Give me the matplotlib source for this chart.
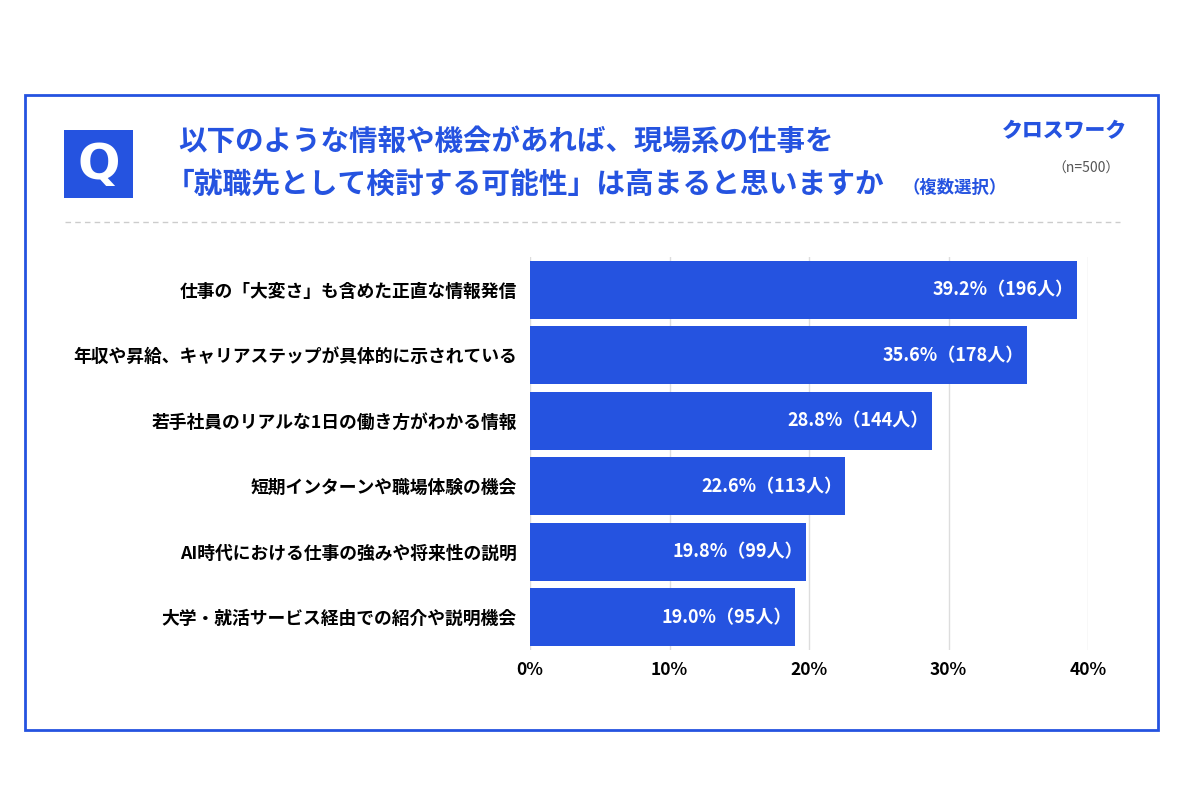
import matplotlib.pyplot as plt
from matplotlib.patches import Rectangle
from matplotlib.lines import Line2D

plt.rcParams['font.family'] = ['Noto Sans CJK JP', 'DejaVu Sans']

categories = [
    "仕事の「大変さ」も含めた正直な情報発信",
    "年収や昇給、キャリアステップが具体的に示されている",
    "若手社員のリアルな1日の働き方がわかる情報",
    "短期インターンや職場体験の機会",
    "AI時代における仕事の強みや将来性の説明",
    "大学・就活サービス経由での紹介や説明機会",
]
percents = [39.2, 35.6, 28.8, 22.6, 19.8, 19.0]
counts = [196, 178, 144, 113, 99, 95]
xticks = [0, 10, 20, 30, 40]

blue = '#2553e0'

fig = plt.figure(figsize=(12, 8), dpi=100)

# outer frame
fig.patches.append(Rectangle((25 / 1200, 1 - 730 / 800), 1133 / 1200, 635 / 800,
                             transform=fig.transFigure, fill=False,
                             edgecolor=blue, linewidth=2))
# Q box
fig.patches.append(Rectangle((64 / 1200, 1 - 198 / 800), 69 / 1200, 68 / 800,
                             transform=fig.transFigure, facecolor=blue,
                             edgecolor='none'))
fig.text(98.5 / 1200, 1 - 165 / 800, "Q", color='white', fontsize=36,
         fontweight='bold', ha='center', va='center', family='DejaVu Sans')

fig.text(178 / 1200, 1 - 142 / 800, "以下のような情報や機会があれば、現場系の仕事を",
         color=blue, fontsize=20.5, fontweight='bold', va='center')
fig.text(166 / 1200, 1 - 184 / 800, "「就職先として検討する可能性」は高まると思いますか",
         color=blue, fontsize=20.7, fontweight='bold', va='center')
fig.text(903 / 1200, 1 - 188 / 800, "（複数選択）", color=blue, fontsize=12.5,
         fontweight='bold', va='center')
fig.text(1127 / 1200, 1 - 131 / 800, "クロスワーク", color=blue, fontsize=15,
         fontweight='heavy', ha='right', va='center')
fig.text(1120 / 1200, 1 - 169 / 800, "（n=500）", color='#555555', fontsize=10,
         ha='right', va='center')

fig.lines.append(Line2D([65 / 1200, 1120 / 1200], [1 - 222 / 800, 1 - 222 / 800],
                        transform=fig.transFigure, color='#cccccc',
                        linewidth=1, linestyle=(0, (4, 3))))

ax = fig.add_axes([530 / 1200, 1 - 650 / 800, 558 / 1200, 393 / 800])
ypos = list(range(len(categories)))
ax.barh(ypos, percents, height=0.89, color=blue, zorder=3)
for y, p, c in zip(ypos, percents, counts):
    ax.text(p - 0.2, y, f"{p:.1f}%（{c}人）", color='white', fontsize=13,
            fontweight='bold', ha='right', va='center', zorder=4)

ax.set_xlim(0, 40)
ax.set_ylim(len(categories) - 0.5, -0.5)
ax.set_xticks(xticks)
ax.set_xticklabels([f"{t}%" for t in xticks], fontsize=12.5, fontweight='bold')
ax.set_yticks(ypos)
ax.set_yticklabels(categories, fontsize=12.8, fontweight='bold')
ax.tick_params(length=0)
ax.tick_params(axis='x', pad=8)
ax.tick_params(axis='y', pad=9.5)
ax.grid(axis='x', color='#dddddd', linewidth=1, zorder=0)
for s in ax.spines.values():
    s.set_visible(False)

fig.savefig('out.png', dpi=100)
